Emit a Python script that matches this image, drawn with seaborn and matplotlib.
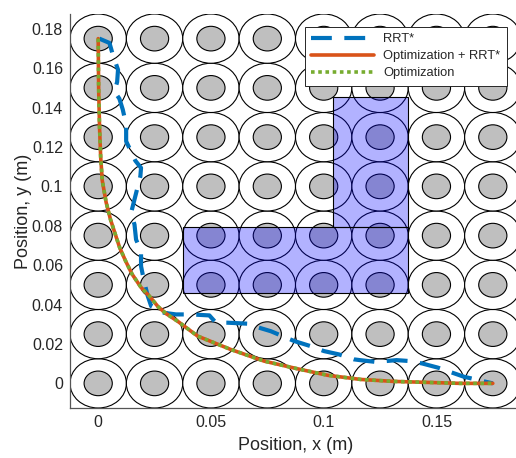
import matplotlib
matplotlib.use("Agg")
import matplotlib.pyplot as plt
from matplotlib.patches import Ellipse, Rectangle
import seaborn as sns

# Path returned by the sampling planner
rrt_x = [0.0005, 0.005, 0.0065, 0.0088, 0.0084, 0.0072, 0.0094, 0.0109, 0.0124, 0.0124,
         0.0165, 0.019, 0.0187, 0.0146, 0.0161, 0.0168, 0.019, 0.019, 0.0205, 0.022,
         0.0235, 0.0293, 0.0345, 0.0412, 0.0493, 0.0522, 0.0574, 0.0662, 0.0692, 0.0765,
         0.0869, 0.0942, 0.1001, 0.1068, 0.1134, 0.1161, 0.1238, 0.1274, 0.1323, 0.1385,
         0.1437, 0.1506, 0.1621, 0.175]
rrt_y = [0.175, 0.1728, 0.1668, 0.1592, 0.153, 0.1482, 0.1445, 0.139, 0.1313, 0.1229,
         0.113, 0.1094, 0.1051, 0.0866, 0.0806, 0.073, 0.0671, 0.0595, 0.0511, 0.0443,
         0.0392, 0.0358, 0.035, 0.035, 0.0345, 0.0308, 0.0308, 0.0303, 0.029, 0.0265,
         0.0215, 0.0189, 0.0164, 0.0147, 0.0122, 0.0118, 0.0108, 0.0113, 0.0118, 0.0113,
         0.0101, 0.008, 0.0034, 0.0]

# Trajectory optimization seeded with the RRT* path
hybrid_x = [0.0, 0.0002, 0.0006, 0.0011, 0.0018, 0.0035, 0.0055, 0.0075, 0.0095, 0.0122,
            0.0150, 0.019, 0.0227, 0.0265, 0.0300, 0.0354, 0.0441, 0.0588, 0.0736, 0.0884,
            0.1018, 0.1164, 0.131, 0.146, 0.1606, 0.175]
hybrid_y = [0.175, 0.15, 0.13, 0.115, 0.103, 0.092, 0.083, 0.076, 0.069, 0.062,
            0.0555, 0.0487, 0.0443, 0.039, 0.0355, 0.0314, 0.024, 0.0172, 0.0113, 0.0074,
            0.0041, 0.002, 0.001, 0.0005, 0.0, 0.0]

# Trajectory optimization on its own
opt_x = [0.0, 0.0002, 0.0006, 0.0011, 0.0018, 0.0035, 0.0055, 0.0075, 0.0095, 0.0122,
         0.0150, 0.019, 0.0227, 0.0265, 0.0300, 0.0354, 0.0441, 0.0588, 0.0736, 0.0884,
         0.1018, 0.1164, 0.131, 0.146, 0.1606, 0.175]
opt_y = [0.175, 0.15, 0.13, 0.115, 0.103, 0.092, 0.083, 0.076, 0.069, 0.062,
         0.0555, 0.0487, 0.0443, 0.039, 0.0355, 0.0314, 0.024, 0.0172, 0.0113, 0.0074,
         0.0041, 0.002, 0.001, 0.0005, 0.0, 0.0]

# Pillar array: centre coordinates and radii (m)
post_x = [0.0, 0.025, 0.05, 0.075, 0.1, 0.125, 0.15, 0.175]
post_y = [0.0, 0.025, 0.05, 0.075, 0.1, 0.125, 0.15, 0.175]
post_outer_r = 0.0125
post_inner_r = 0.00625

# L-shaped forbidden zone, as (x0, y0, x1, y1) blocks
block_h = (0.0375, 0.046, 0.1375, 0.0795)
block_v = (0.1043, 0.0795, 0.1375, 0.1454)

x_ticks = [0, 0.05, 0.1, 0.15]
x_tick_labels = ["0", "0.05", "0.1", "0.15"]
y_ticks = [0, 0.02, 0.04, 0.06, 0.08, 0.1, 0.12, 0.14, 0.16, 0.18]
y_tick_labels = ["0", "0.02", "0.04", "0.06", "0.08", "0.1", "0.12", "0.14", "0.16", "0.18"]

series_labels = ["RRT*", "Optimization + RRT*", "Optimization"]
series_colors = ["#0072BD", "#D95319", "#77AC30"]

sns.set_theme(style="white")
plt.rcParams["font.family"] = ["Liberation Sans", "DejaVu Sans"]

W, H = 516, 458
fig = plt.figure(figsize=(W / 100, H / 100), dpi=100)
ax = fig.add_axes([70 / W, 50 / H, 451 / W, 394 / H])

# pillars
for cx in post_x:
    for cy in post_y:
        ax.add_patch(Ellipse((cx, cy), 2 * post_outer_r, 2 * post_outer_r,
                             facecolor="white", edgecolor="black", lw=0.8, zorder=1))
        ax.add_patch(Ellipse((cx, cy), 2 * post_inner_r, 2 * post_inner_r,
                             facecolor="#bfbfbf", edgecolor="black", lw=0.8, zorder=1.1))

# forbidden zone
for (x0, y0, x1, y1) in (block_h, block_v):
    ax.add_patch(Rectangle((x0, y0), x1 - x0, y1 - y0,
                           facecolor=(0, 0, 1, 0.3), edgecolor="black", lw=0.8, zorder=2))

sns.lineplot(x=rrt_x, y=rrt_y, sort=False, estimator=None, ax=ax,
             color=series_colors[0], lw=3.0, linestyle=(0, (5, 3)),
             dash_capstyle="butt", label=series_labels[0], zorder=3)
sns.lineplot(x=hybrid_x, y=hybrid_y, sort=False, estimator=None, ax=ax,
             color=series_colors[1], lw=2.6, label=series_labels[1], zorder=4)
sns.lineplot(x=opt_x, y=opt_y, sort=False, estimator=None, ax=ax,
             color=series_colors[2], lw=2.6, linestyle=(0, (1, 1)),
             dash_capstyle="butt", label=series_labels[2], zorder=5)

ax.set_xlim(-0.0125, 0.1875)
ax.set_ylim(-0.0125, 0.1875)
ax.set_xticks(x_ticks)
ax.set_xticklabels(x_tick_labels)
ax.set_yticks(y_ticks)
ax.set_yticklabels(y_tick_labels)

ax.set_axisbelow(True)
ax.tick_params(direction="in", length=4, width=0.6, color="#262626",
               labelsize=11.5, labelcolor="#262626", pad=5)
for side in ("top", "right"):
    ax.spines[side].set_visible(False)
for side in ("left", "bottom"):
    ax.spines[side].set_color("#555555")
    ax.spines[side].set_linewidth(0.9)

ax.set_xlabel("Position, x (m)", fontsize=13, color="#262626", labelpad=5)
ax.set_ylabel("Position, y (m)", fontsize=13, color="#262626", labelpad=0)

leg = ax.legend(loc="upper right", bbox_to_anchor=(507 / W, 1 - 27 / H),
                bbox_transform=fig.transFigure, fontsize=9.3, frameon=True,
                fancybox=False, framealpha=1, edgecolor="#262626",
                handlelength=4.9, handletextpad=0.7, borderpad=0.5,
                labelspacing=0.38, borderaxespad=0)
leg.get_frame().set_linewidth(0.7)
leg.set_zorder(10)

fig.savefig("out.png", dpi=100)
